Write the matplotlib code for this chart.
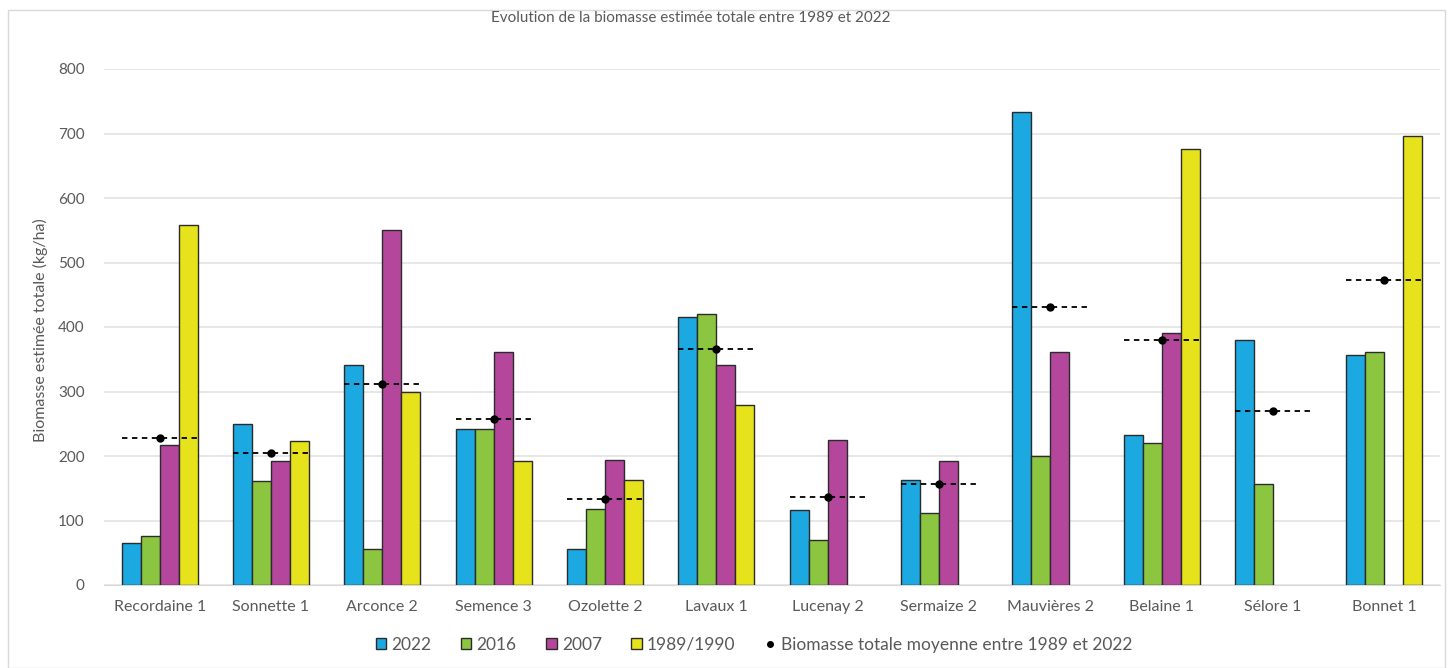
import numpy as np
import matplotlib
matplotlib.use("Agg")
import matplotlib.pyplot as plt
from matplotlib.lines import Line2D
from matplotlib.patches import Rectangle

plt.rcParams['font.family'] = ['Lato', 'DejaVu Sans']

stations = ["Recordaine 1", "Sonnette 1", "Arconce 2", "Semence 3", "Ozolette 2",
            "Lavaux 1", "Lucenay 2", "Sermaize 2", "Mauvières 2", "Belaine 1",
            "Sélore 1", "Bonnet 1"]
nan = np.nan
v2022 = [65, 250, 341, 242, 56, 416, 116, 163, 733, 233, 380, 357]
v2016 = [76, 161, 56, 242, 118, 420, 70, 111, 200, 220, 157, 361]
v2007 = [217, 192, 550, 361, 194, 341, 225, 193, 361, 391, nan, nan]
v1989 = [558, 223, 299, 192, 163, 279, nan, nan, nan, 676, nan, 696]
mean_total = [228, 205, 312, 257, 133, 366, 137, 156, 431, 380, 269, 473]

series = [("2022", v2022, "#1CA8E0"),
          ("2016", v2016, "#8CC640"),
          ("2007", v2007, "#B4479C"),
          ("1989/1990", v1989, "#E6E31C")]

text_col = "#595959"
fs = 11.5
fig = plt.figure(figsize=(14.5, 6.68), dpi=100)
ax = fig.add_axes([104/1450, 1-585/668, (1440-104)/1450, (585-69)/668])

x = np.arange(len(stations))
w = 0.17
for i, (lab, vals, col) in enumerate(series):
    ax.bar(x + (i - 1.5) * w, np.array(vals, dtype=float), width=w, color=col,
           edgecolor="#2b2b2b", linewidth=1.0, label=lab, zorder=3)

ax.hlines(mean_total, x - 2 * w, x + 2 * w, colors="black", linestyles=(0, (3, 2.5)),
          linewidth=1.3, zorder=4)
ax.plot(x, mean_total, 'o', color="black", markersize=5, zorder=5, linestyle='none')

ax.set_xlim(-0.5, len(stations) - 0.5)
ax.set_ylim(0, 800)
ax.set_yticks(np.arange(0, 801, 100))
ax.grid(axis='y', color="#e3e3e3", linewidth=1.2, zorder=0)
ax.set_axisbelow(True)
for s in ax.spines.values():
    s.set_visible(False)
ax.spines['bottom'].set_visible(True)
ax.spines['bottom'].set_color("#d9d9d9")
ax.tick_params(axis='x', length=0, labelsize=fs, colors=text_col, pad=11)
ax.tick_params(axis='y', length=0, labelsize=11, colors=text_col, pad=14)
ax.set_xticks(x)
ax.set_xticklabels(stations)

fig.text(40/1450, 1 - 330/668, "Biomasse estimée totale (kg/ha)", rotation=90,
         ha='center', va='center', fontsize=fs, color=text_col)
fig.text(691/1450, 1 - 18/668, "Evolution de la biomasse estimée totale entre 1989 et 2022",
         ha='center', va='center', fontsize=11, color=text_col)

handles = [Rectangle((0, 0), 1, 1, facecolor=c, edgecolor="#2b2b2b", linewidth=1.0)
           for _, _, c in series]
labels = [s[0] for s in series]
handles.append(Line2D([], [], marker='o', color='black', linestyle='none', markersize=4))
labels.append("Biomasse totale moyenne entre 1989 et 2022")
leg = fig.legend(handles, labels, loc='center', bbox_to_anchor=(754/1450, 1 - 645/668),
                 ncol=5, frameon=False, fontsize=12.5, handlelength=0.6, handleheight=0.6,
                 handletextpad=0.3, columnspacing=1.7)
for t in leg.get_texts():
    t.set_color(text_col)

fig.patches.append(Rectangle((8/1450, 0.0), 1437/1450, 1 - 10/668, transform=fig.transFigure,
                             fill=False, edgecolor="#d9d9d9", linewidth=1.0))

fig.savefig("out.png", dpi=100, facecolor="white")
